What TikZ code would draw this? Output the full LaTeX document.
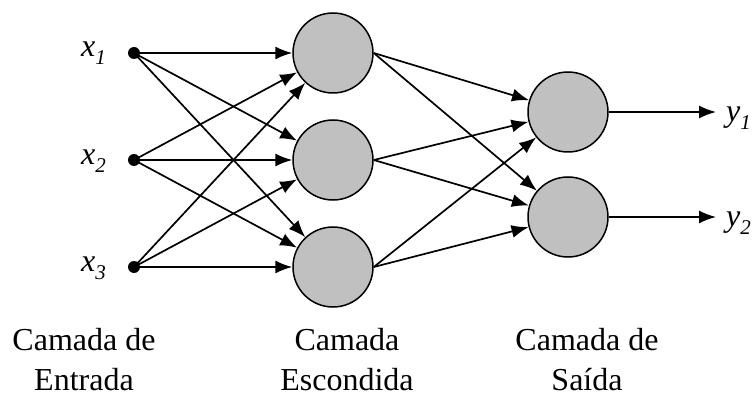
\documentclass[tikz,border=0pt]{standalone}
\usepackage{fontspec}
\setmainfont{Liberation Serif}
\usetikzlibrary{positioning,arrows.meta}
\definecolor{nodegray}{RGB}{192,192,192}
\newcommand{\subidx}[1]{\raisebox{-8pt}{\fontsize{21}{21}\selectfont #1}}
\tikzset{
>={Latex[length=17pt,width=13pt]},
  neuron/.style={
    circle,
    draw=black, line width=1.5pt,
    fill=nodegray,
    minimum size=80pt,
    inner sep=0pt},
  inpoint/.style={circle, fill=black, minimum size=12pt, inner sep=0pt},
  syn/.style={->, line width=1.7pt},
  varlabel/.style={font=\fontsize{32}{32}\selectfont\itshape, inner sep=0pt},
  layerlabel/.style={font=\fontsize{32}{40}\selectfont, align=center, inner sep=0pt},
}

\begin{document}
\begin{tikzpicture}[x=1pt,y=-1pt]
    \useasboundingbox (0,0) rectangle (755,398);

    % entradas
    \node[inpoint] (i1) at (134,53) {};
    \node[inpoint] (i2) at (134,160) {};
    \node[inpoint] (i3) at (134,267) {};

    \node[varlabel, anchor=base west] (lx1) at (81,57) {x\subidx{1}};
    \node[varlabel, anchor=base west] (lx2) at (81,165) {x\subidx{2}};
    \node[varlabel, anchor=base west] (lx3) at (81,272) {x\subidx{3}};

    % camada escondida
    \node[neuron] (h1) at (333,53) {};
    \node[neuron] (h2) at (333,160) {};
    \node[neuron] (h3) at (333,267) {};

    % camada de saida
    \node[neuron] (o1) at (568,112) {};
    \node[neuron] (o2) at (568,217) {};

    \coordinate (y1) at (716,112);
    \coordinate (y2) at (716,217);

    \node[varlabel, anchor=base west] (ly1) at (726,122) {y\subidx{1}};
    \node[varlabel, anchor=base west] (ly2) at (726,227) {y\subidx{2}};

    \foreach \i in {1,2,3}
      \foreach \h in {1,2,3}
        \draw[syn] (i\i.center) -- (h\h);

    \foreach \h in {1,2,3}
      \foreach \o in {1,2}
        \draw[syn] (h\h.east) -- (o\o);

    \draw[syn] (o1.east) -- (y1);
    \draw[syn] (o2.east) -- (y2);

    % nomes das camadas
    \node[layerlabel, anchor=north] (le) at (84,328) {Camada de\\Entrada};
    \node[layerlabel, anchor=north] (lh) at (347,328) {Camada\\Escondida};
    \node[layerlabel, anchor=north] (ls) at (587,328) {Camada de\\Saída};
\end{tikzpicture}
\end{document}
